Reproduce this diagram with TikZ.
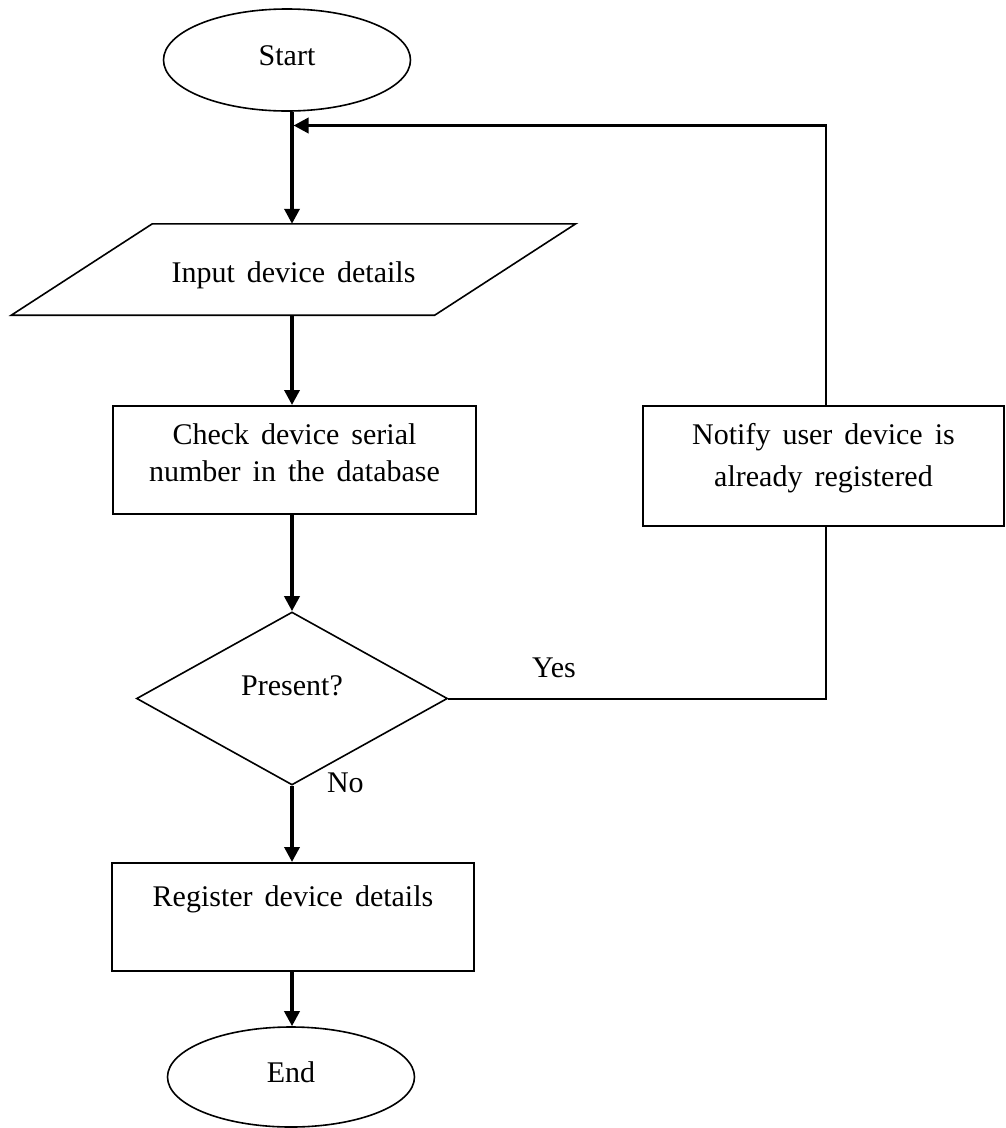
\documentclass[tikz,border=0pt]{standalone}
\usepackage{fontspec}
\setmainfont{Liberation Serif}
\usetikzlibrary{shapes.geometric,arrows.meta}
\newcommand\mywidesp{\spaceskip=12pt plus 2pt minus 2pt\relax}
\begin{document}
\begin{tikzpicture}[x=1pt,y=-1pt,
  every node/.style={font=\fontsize{30}{37}\selectfont\mywidesp},
  outline/.style={draw, line width=1.6pt},
  terminal/.style={outline, ellipse, minimum width=247pt, minimum height=102pt, inner sep=0pt, text height=20pt, text depth=10pt},
  procbox/.style={draw, line width=2pt, rectangle, inner sep=0pt},
  decision/.style={outline, diamond, minimum width=311pt, minimum height=173pt, inner sep=0pt, text height=21pt, text depth=28pt},
  flow/.style={line width=3.5pt, -{Triangle[length=15pt,width=15pt]}},
  loopline/.style={line width=2pt},
]
\useasboundingbox (0,0) rectangle (1005,1128);
\coordinate (axis) at (292,0);
\coordinate (loopx) at (826,0);
\coordinate (looptop) at (826,125.5);

\node[terminal] (start) at (287,60) {Start};

\node[minimum width=423pt, minimum height=91pt, inner sep=0pt, text height=28pt, text depth=3pt] (inp) at (293.5,269.5) {Input device details};
\draw[outline, line join=miter] ([xshift=70.5pt]inp.north west) -- ([xshift=70.5pt]inp.north east) -- ([xshift=-70.5pt]inp.south east) -- ([xshift=-70.5pt]inp.south west) -- cycle;

\node[procbox] (chk) at (294.5,460) {\parbox[c][108pt][t]{363pt}{\centering\vspace*{18pt}Check device serial\\number in the database}};

\node[decision] (dia) at (292,698.5) {Present?};

\node[procbox] (notify) at (823.5,466) {\parbox[c][120pt][t]{361pt}{\centering\fontsize{30}{42}\selectfont\vspace*{17pt}Notify user device is\\already registered}};

\node[procbox] (reg) at (293,917) {\parbox[c][108pt][t]{362pt}{\centering\vspace*{23pt}Register device details}};

\node[terminal, minimum height=100pt] (end) at (291,1077) {End};

% main flow
\draw[flow] (start.south -| axis) -- (inp.north -| axis);
\draw[flow] (inp.south -| axis) -- (chk.north -| axis);
\draw[flow] (chk.south -| axis) -- (dia.north -| axis);
\draw[flow] (dia.south -| axis) -- node[pos=0.09, anchor=base west, xshift=30pt] {No} (reg.north -| axis);
\draw[flow] (reg.south -| axis) -- (end.north -| axis);

% loop back
\draw[loopline] (dia.east) -- node[pos=0.28, anchor=base, yshift=21pt] {Yes} (dia.east -| loopx) -- (loopx |- notify.south);
\draw[loopline] (loopx |- notify.north) -- (looptop);
\draw[flow, shorten >=1.5pt] ([xshift=1pt]looptop) -- (looptop -| axis);
\end{tikzpicture}
\end{document}
